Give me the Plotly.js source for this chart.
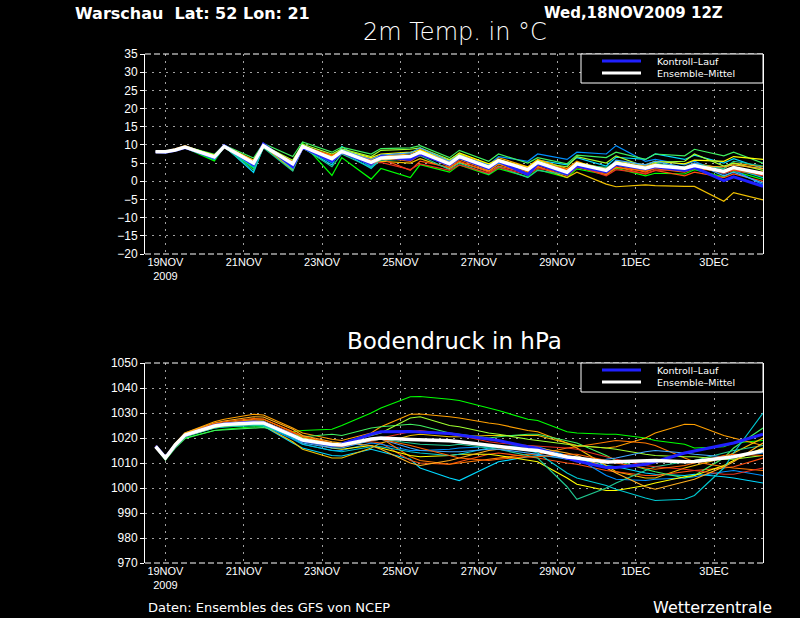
<!DOCTYPE html>
<html>
<head>
<meta charset="utf-8">
<script src="https://cdn.plot.ly/plotly-3.0.1.min.js"></script>
<style>html,body{margin:0;padding:0;background:#000;}#chart{width:800px;height:618px;}</style>
</head>
<body>
<div id="chart"></div>
<script>
// ---- time axis (forecast steps) ----
const times = ['2009-11-18 18:00','2009-11-19 00:00','2009-11-19 06:00','2009-11-19 12:00',
 '2009-11-20 06:00','2009-11-20 12:00','2009-11-21 06:00','2009-11-21 12:00',
 '2009-11-22 06:00','2009-11-22 12:00','2009-11-23 06:00','2009-11-23 12:00',
 '2009-11-24 06:00','2009-11-24 12:00','2009-11-25 06:00','2009-11-25 12:00',
 '2009-11-26 06:00','2009-11-26 12:00','2009-11-27 06:00','2009-11-27 12:00',
 '2009-11-28 06:00','2009-11-28 12:00','2009-11-29 06:00','2009-11-29 12:00',
 '2009-11-30 06:00','2009-11-30 12:00','2009-12-01 06:00','2009-12-01 12:00',
 '2009-12-02 06:00','2009-12-02 12:00','2009-12-03 06:00','2009-12-03 12:00',
 '2009-12-04 06:00'];

const tickDates = ['2009-11-19','2009-11-21','2009-11-23','2009-11-25','2009-11-27','2009-11-29','2009-12-01','2009-12-03'];
const tickLabels = ['19NOV<br>2009','21NOV','23NOV','25NOV','27NOV','29NOV','1DEC','3DEC'];

const memberColors = ['#00ff00','#00d8ff','#ffa000','#f0c000','#ff5010','#0090ff','#40f060','#ff7800',
                      '#ffff00','#20c890','#e83020','#a0ff30','#00c8d0','#ffb020','#40a8ff','#ff6400'];

// ---- 2m temperature (°C) ----
const tempMean    = [8.1,8.1,8.6,9.4,6.7,9.6,5.0,9.8,4.8,9.6,6.2,8.2,5.2,6.4,6.8,8.0,4.8,6.8,3.9,5.7,3.2,5.2,2.5,4.8,3.0,5.0,3.6,4.3,3.6,4.3,2.7,3.8,2.1];
const tempControl = [8.1,8.0,8.5,9.3,6.5,9.8,4.6,10.2,4.0,9.4,5.5,8.0,4.8,6.8,6.0,7.5,4.5,6.5,3.5,5.5,1.8,4.8,2.0,4.2,2.6,4.6,3.4,4.0,3.0,3.8,0.2,1.2,-1.4];
const tempM01 = [8.0,7.9,8.4,9.2,5.6,9.5,3.5,9.6,3.2,10.5,1.6,6.5,0.6,3.5,1.0,4.6,2.5,4.5,1.8,3.5,1.2,3.2,1.0,3.4,1.8,3.6,1.5,2.2,2.0,3.2,1.2,2.8,0.5];
const tempM02 = [8.2,8.2,8.7,9.5,6.2,9.7,2.4,9.5,3.5,9.2,4.5,9.6,4.0,6.0,6.5,8.5,5.5,7.2,4.0,5.2,3.8,5.8,4.5,6.5,4.2,6.6,6.0,7.5,6.0,7.2,5.0,6.2,3.5];
const tempM03 = [8.1,8.2,8.9,9.8,6.9,9.7,5.5,9.9,5.5,9.8,7.0,8.5,6.2,7.0,7.5,8.8,5.2,7.5,4.5,6.5,4.0,6.0,3.5,5.5,2.5,4.5,3.0,3.8,4.0,5.0,3.5,5.0,4.0];
const tempM04 = [8.1,8.0,8.5,9.3,6.4,9.4,4.8,9.7,3.0,9.0,5.8,7.5,5.0,5.5,5.0,6.2,3.5,5.2,2.8,4.8,2.0,4.0,1.0,2.5,-0.8,-1.5,-1.0,-1.2,-1.4,-1.4,-5.5,-3.1,-5.1];
const tempM05 = [8.0,8.1,8.6,9.3,7.0,9.8,5.6,9.9,5.0,9.7,6.5,8.0,5.8,6.2,3.0,5.5,3.8,5.5,2.5,4.2,2.2,4.0,1.5,3.8,2.2,4.0,2.0,3.0,1.5,2.5,1.0,2.0,0.0];
const tempM06 = [8.1,8.1,8.6,9.4,6.8,9.5,4.2,10.0,4.0,9.5,5.5,8.8,4.0,6.5,7.2,8.2,5.0,7.0,4.5,6.8,5.5,7.5,6.0,8.0,7.5,9.8,5.5,6.0,4.5,5.5,2.0,3.2,-1.0];
const tempM07 = [8.2,8.3,8.8,9.6,7.4,9.9,6.4,10.4,6.8,10.8,8.0,9.4,7.5,9.0,9.2,9.8,6.5,8.5,5.5,7.5,5.0,6.5,4.8,7.2,6.5,8.0,6.0,7.5,7.0,8.8,7.0,8.0,5.0];
const tempM08 = [8.0,8.0,8.5,9.2,6.6,9.6,5.2,9.6,4.5,9.5,6.8,8.4,5.5,6.8,7.0,7.8,4.0,6.0,3.0,4.8,2.5,4.5,2.0,4.0,1.8,3.8,2.8,3.5,2.5,3.5,2.8,3.5,2.5];
const tempM09 = [8.2,8.2,8.7,9.5,7.2,9.8,5.8,10.0,4.2,9.0,6.8,8.6,6.5,7.5,8.0,8.5,5.8,7.8,4.8,6.0,3.8,5.8,3.0,5.2,3.5,5.5,4.5,5.5,4.8,5.8,5.5,6.8,6.0];
const tempM10 = [8.1,8.2,8.7,9.4,6.9,9.5,3.0,9.2,2.8,9.3,4.0,7.5,3.8,5.8,6.0,7.0,3.2,5.0,2.0,4.0,1.0,3.0,1.8,4.5,3.8,5.2,4.0,5.0,3.8,4.8,3.5,5.5,4.2];
const tempM11 = [8.1,8.1,8.6,9.3,6.8,9.6,5.4,9.8,5.2,9.9,6.0,8.0,5.0,5.2,3.2,4.8,3.0,4.5,2.2,3.8,1.8,3.5,2.5,4.2,1.5,3.2,2.2,3.0,3.2,4.2,2.2,3.0,1.5];
const tempM12 = [8.2,8.2,8.6,9.4,6.3,9.7,4.6,9.9,5.8,10.2,7.5,8.9,6.8,8.5,8.8,9.2,6.0,7.5,3.5,5.2,3.0,5.0,4.0,6.8,5.0,7.0,4.0,5.2,5.5,7.5,4.2,5.0,3.0];
const tempM13 = [8.1,8.1,8.6,9.4,6.0,9.4,3.8,9.6,5.0,9.4,5.0,8.2,3.5,6.2,6.8,8.0,4.5,6.2,3.8,5.0,3.2,5.5,2.8,5.0,3.0,5.0,3.8,4.5,3.2,4.0,3.0,3.5,1.0];
const tempM14 = [8.2,8.2,8.8,9.6,7.0,9.6,5.8,9.8,3.8,9.6,6.4,8.4,4.5,6.0,6.2,7.8,5.5,7.0,3.2,5.5,2.8,5.2,2.2,4.5,3.5,5.0,4.2,4.8,3.0,4.2,4.0,4.5,3.5];
const tempM15 = [8.0,8.0,8.5,9.3,6.5,9.6,5.0,9.7,4.6,9.8,6.5,8.6,6.0,7.2,7.8,9.2,5.5,7.2,4.2,5.5,3.5,5.0,2.2,4.5,3.0,5.8,4.5,5.5,3.8,5.0,1.5,2.5,-0.5];
const tempM16 = [8.1,8.1,8.6,9.4,6.6,9.5,5.3,9.8,5.3,9.6,7.2,8.0,5.6,6.6,5.5,7.2,4.6,6.4,3.6,5.8,3.6,5.4,3.2,5.0,2.8,4.5,2.5,3.6,2.8,3.8,2.5,3.2,1.8];

// ---- surface pressure (hPa) ----
const presMean    = [1016.6,1012.0,1017.2,1021.2,1024.8,1025.4,1026.0,1026.0,1021.0,1019.2,1017.4,1017.2,1019.6,1020.0,1019.4,1019.3,1018.9,1018.5,1017.0,1016.8,1015.3,1015.0,1012.4,1012.0,1010.4,1010.5,1011.0,1011.0,1010.5,1010.6,1012.0,1012.5,1014.9];
const presControl = [1016.8,1012.2,1017.0,1021.0,1025.0,1025.6,1026.4,1026.2,1021.2,1019.0,1017.0,1017.6,1021.5,1022.5,1022.6,1022.4,1021.8,1021.2,1019.5,1019.0,1016.5,1015.8,1012.0,1010.8,1008.2,1008.2,1009.5,1010.5,1014.0,1014.8,1017.0,1018.0,1021.5];
const presM01 = [1016.5,1011.8,1016.5,1020.0,1023.0,1023.5,1024.5,1024.5,1022.5,1023.0,1023.5,1025.0,1030.0,1032.0,1036.5,1036.6,1035.5,1035.0,1032.0,1031.0,1027.5,1027.0,1022.5,1022.0,1021.5,1021.5,1020.0,1019.0,1017.5,1016.0,1016.5,1018.0,1019.0];
const presM02 = [1016.4,1011.6,1016.8,1020.8,1024.0,1024.4,1025.0,1024.8,1018.0,1016.0,1013.0,1012.8,1015.5,1014.5,1011.5,1008.0,1004.0,1003.0,1008.5,1010.5,1012.5,1013.0,1012.0,1011.5,1009.0,1008.5,1006.0,1005.5,1005.0,1005.5,1004.5,1004.0,1002.0];
const presM03 = [1016.8,1012.2,1017.8,1022.0,1026.5,1027.5,1029.5,1029.2,1024.0,1022.0,1019.5,1019.0,1022.0,1024.5,1029.5,1029.6,1028.5,1028.0,1026.0,1025.5,1023.0,1022.5,1018.0,1017.0,1016.0,1016.5,1020.0,1022.0,1025.5,1025.4,1021.0,1020.0,1017.0];
const presM04 = [1016.6,1012.0,1017.0,1021.0,1024.5,1025.0,1025.5,1025.0,1018.5,1015.5,1012.0,1012.0,1016.0,1018.0,1021.0,1021.5,1020.5,1020.5,1021.0,1021.0,1021.0,1021.0,1018.0,1016.0,1009.0,1006.5,1004.0,1004.0,1008.0,1009.0,1012.0,1014.0,1020.0];
const presM05 = [1016.5,1011.8,1016.8,1021.0,1025.0,1025.5,1026.5,1026.5,1022.0,1020.5,1018.0,1017.5,1018.5,1018.0,1011.0,1010.0,1009.5,1010.5,1013.5,1014.0,1012.5,1012.0,1010.0,1009.5,1007.0,1006.5,1005.0,1005.0,1006.5,1007.0,1008.0,1008.5,1012.0];
const presM06 = [1016.4,1011.4,1016.5,1020.5,1024.0,1024.6,1025.2,1025.0,1019.5,1017.5,1015.0,1015.0,1018.0,1017.5,1015.0,1015.0,1015.5,1016.0,1016.5,1016.5,1017.0,1016.5,1013.0,1012.0,1005.0,1003.5,1003.0,1003.5,1004.0,1004.5,1006.5,1007.0,1005.0];
const presM07 = [1016.2,1011.2,1016.0,1019.8,1023.0,1023.2,1024.0,1024.2,1021.5,1020.5,1021.5,1021.0,1024.0,1024.5,1025.5,1025.0,1022.0,1021.5,1020.0,1020.5,1021.5,1021.5,1019.0,1018.0,1013.0,1011.0,1007.5,1006.5,1004.0,1005.0,1012.0,1016.0,1024.0];
const presM08 = [1016.8,1012.4,1017.5,1021.5,1025.5,1026.0,1027.5,1027.5,1022.5,1020.5,1017.5,1017.0,1019.5,1020.0,1012.5,1011.0,1009.5,1010.0,1011.5,1012.0,1013.5,1013.5,1016.0,1016.5,1018.5,1019.0,1018.0,1017.0,1012.0,1010.5,1008.5,1008.0,1007.0];
const presM09 = [1016.7,1012.2,1017.5,1021.8,1025.5,1026.0,1027.0,1026.8,1021.5,1019.0,1016.0,1015.5,1017.0,1016.0,1013.0,1012.5,1013.0,1013.5,1013.5,1013.0,1011.0,1010.5,1004.0,1001.5,999.0,999.0,1001.0,1002.0,1004.5,1005.0,1009.0,1011.0,1016.0];
const presM10 = [1016.5,1011.8,1016.6,1020.5,1024.0,1024.5,1025.0,1025.0,1020.5,1018.5,1016.5,1016.5,1019.0,1019.5,1018.0,1017.5,1017.0,1017.5,1016.0,1015.5,1013.0,1012.0,1000.5,995.5,1000.0,1002.0,1007.0,1008.5,1010.5,1011.0,1014.0,1015.0,1017.0];
const presM11 = [1016.6,1012.0,1017.2,1021.2,1025.2,1025.8,1026.8,1026.6,1021.0,1019.0,1017.0,1016.5,1019.0,1020.0,1022.5,1023.0,1021.5,1021.0,1018.5,1018.0,1017.0,1016.8,1016.0,1015.5,1012.5,1011.5,1009.0,1008.5,1007.5,1007.0,1005.5,1005.5,1008.0];
const presM12 = [1016.4,1011.6,1016.6,1020.6,1024.2,1024.8,1025.5,1025.4,1021.5,1020.0,1018.0,1018.0,1021.0,1022.0,1028.0,1028.5,1025.0,1024.5,1022.0,1021.5,1019.5,1019.0,1017.5,1017.0,1016.0,1015.5,1013.5,1013.0,1012.5,1012.5,1011.5,1011.5,1013.0];
const presM13 = [1016.6,1012.0,1017.0,1021.0,1024.5,1025.0,1025.5,1025.2,1020.0,1017.5,1015.0,1014.5,1016.5,1016.5,1014.5,1014.0,1013.0,1013.5,1016.0,1016.5,1015.0,1014.0,1006.0,1004.0,1001.0,999.5,996.0,995.0,995.5,997.0,1008.0,1014.0,1030.0];
const presM14 = [1016.8,1012.4,1017.6,1022.0,1026.0,1026.8,1028.5,1028.4,1023.5,1021.0,1018.5,1018.0,1017.0,1015.5,1010.0,1009.0,1011.0,1012.0,1015.0,1015.5,1016.0,1016.0,1014.0,1013.0,1008.0,1006.0,1000.5,999.5,1002.5,1003.5,1008.5,1010.5,1018.0];
const presM15 = [1016.5,1011.8,1016.9,1021.0,1024.8,1025.2,1026.0,1025.8,1020.5,1018.0,1016.0,1016.0,1019.0,1019.5,1016.0,1015.0,1014.5,1014.5,1015.5,1015.5,1014.0,1013.5,1011.5,1011.0,1011.5,1012.0,1014.5,1015.0,1014.0,1013.5,1012.5,1012.5,1014.0];
const presM16 = [1016.7,1012.1,1017.3,1021.5,1025.8,1026.5,1027.8,1027.6,1022.5,1020.5,1018.0,1017.5,1019.0,1019.5,1017.0,1016.0,1013.0,1012.0,1011.0,1011.5,1012.5,1012.5,1013.5,1013.5,1011.0,1010.0,1008.0,1007.5,1009.0,1010.0,1013.0,1013.5,1013.0];

const tempMembers = [tempM01,tempM02,tempM03,tempM04,tempM05,tempM06,tempM07,tempM08,tempM09,tempM10,tempM11,tempM12,tempM13,tempM14,tempM15,tempM16];
const presMembers = [presM01,presM02,presM03,presM04,presM05,presM06,presM07,presM08,presM09,presM10,presM11,presM12,presM13,presM14,presM15,presM16];

const controlColor = '#2020ff';
const traces = [];
tempMembers.forEach((ys, i) => traces.push({x: times, y: ys, xaxis: 'x', yaxis: 'y', type: 'scatter', mode: 'lines',
  line: {color: memberColors[i], width: 1.2}, showlegend: false, hoverinfo: 'skip'}));
traces.push({x: times, y: tempControl, xaxis: 'x', yaxis: 'y', type: 'scatter', mode: 'lines', name: 'Kontroll-Lauf',
  line: {color: controlColor, width: 3}, showlegend: false});
traces.push({x: times, y: tempMean, xaxis: 'x', yaxis: 'y', type: 'scatter', mode: 'lines', name: 'Ensemble-Mittel',
  line: {color: '#ffffff', width: 3.5}, showlegend: false});
presMembers.forEach((ys, i) => traces.push({x: times, y: ys, xaxis: 'x2', yaxis: 'y2', type: 'scatter', mode: 'lines',
  line: {color: memberColors[i], width: 1.2}, showlegend: false, hoverinfo: 'skip'}));
traces.push({x: times, y: presControl, xaxis: 'x2', yaxis: 'y2', type: 'scatter', mode: 'lines', name: 'Kontroll-Lauf',
  line: {color: controlColor, width: 3}, showlegend: false});
traces.push({x: times, y: presMean, xaxis: 'x2', yaxis: 'y2', type: 'scatter', mode: 'lines', name: 'Ensemble-Mittel',
  line: {color: '#ffffff', width: 3.5}, showlegend: false});

// pixel helpers -> paper coords (plot area: x 145..763, y 54..563)
const L = 145, R = 763, T = 54, B = 563;
const px = x => (x - L) / (R - L);
const py = y => (B - y) / (B - T);
const topDom = [py(254), 1];
const botDom = [0, py(363)];

const FONT = 'DejaVu Sans, Liberation Sans, sans-serif';
const tickFont = {family: 'Liberation Sans, DejaVu Sans, sans-serif', size: 11, color: '#ffffff'};
const gridCol = '#a0a0a0';
const xRange = ['2009-11-18 11:30', '2009-12-04 06:00'];

function xAxis(anchor) {
  return {domain: [0, 1], anchor: anchor, type: 'date', range: xRange,
    tickmode: 'array', tickvals: tickDates, ticktext: tickLabels, tickfont: tickFont,
    showgrid: true, gridcolor: gridCol, griddash: '2px,5px', gridwidth: 1,
    showline: false, zeroline: false, ticks: '', fixedrange: true};
}
function yAxis(anchor, dom, range, dtick) {
  return {domain: dom, anchor: anchor, range: range, dtick: dtick, tick0: 0, tickmode: 'linear',
    tickfont: {family: tickFont.family, size: 12, color: '#ffffff'},
    ticks: 'outside', ticklen: 4, tickcolor: '#ffffff', tickwidth: 1,
    showline: true, linecolor: '#ffffff', linewidth: 1, mirror: true,
    showgrid: true, gridcolor: gridCol, griddash: '2px,5px', gridwidth: 1,
    zeroline: false, fixedrange: true};
}

const shapes = [];
// dashed top/bottom frame edges
[topDom[0], topDom[1], botDom[0], botDom[1]].forEach(v => shapes.push({type: 'line', xref: 'paper', yref: 'paper',
  x0: 0, x1: 1, y0: v, y1: v, line: {color: '#ffffff', width: 1, dash: '6px,3px'}, layer: 'above'}));

const annotations = [];
function legendBox(yTop, yBot, yLine1, yLine2) {
  shapes.push({type: 'rect', xref: 'paper', yref: 'paper', x0: px(581), x1: 1, y0: py(yBot), y1: py(yTop),
    line: {color: '#ffffff', width: 1}, fillcolor: '#000000', layer: 'above'});
  shapes.push({type: 'line', xref: 'paper', yref: 'paper', x0: px(602), x1: px(641), y0: py(yLine1), y1: py(yLine1),
    line: {color: controlColor, width: 3}, layer: 'above'});
  shapes.push({type: 'line', xref: 'paper', yref: 'paper', x0: px(602), x1: px(641), y0: py(yLine2), y1: py(yLine2),
    line: {color: '#ffffff', width: 3}, layer: 'above'});
  annotations.push({xref: 'paper', yref: 'paper', x: px(656), y: py((yLine1 + yLine2) / 2), xanchor: 'left', yanchor: 'middle',
    align: 'left', borderpad: 0,
    text: 'Kontroll\u2013Lauf<br>Ensemble\u2013Mittel', showarrow: false, font: {family: FONT, size: 9.5, color: '#ffffff'}});
}
legendBox(54, 83, 61, 73);
legendBox(363, 392, 370, 382);

annotations.push({xref: 'paper', yref: 'paper', x: px(73), y: py(13), xanchor: 'left', yanchor: 'middle',
  text: '<b>Warschau\u00a0\u00a0Lat: 52 Lon: 21</b>', showarrow: false, font: {family: FONT, size: 16, color: '#ffffff'}});
annotations.push({xref: 'paper', yref: 'paper', x: px(725), y: py(13), xanchor: 'right', yanchor: 'middle',
  text: '<b>Wed,18NOV2009\u00a012Z</b>', showarrow: false, font: {family: FONT, size: 15, color: '#ffffff'}});
annotations.push({xref: 'paper', yref: 'paper', x: px(455), y: py(32), xanchor: 'center', yanchor: 'middle',
  text: '2m Temp. in °C', showarrow: false, font: {family: 'DejaVu Sans ExtraLight, DejaVu Sans, sans-serif', size: 24, weight: 200, color: '#ffffff'}});
annotations.push({xref: 'paper', yref: 'paper', x: px(454), y: py(341), xanchor: 'center', yanchor: 'middle',
  text: 'Bodendruck in hPa', showarrow: false, font: {family: FONT, size: 23, color: '#ffffff'}});
annotations.push({xref: 'paper', yref: 'paper', x: px(146), y: py(607), xanchor: 'left', yanchor: 'middle',
  text: 'Daten: Ensembles des GFS von NCEP', showarrow: false, font: {family: FONT, size: 13, color: '#ffffff'}});
annotations.push({xref: 'paper', yref: 'paper', x: px(774), y: py(607), xanchor: 'right', yanchor: 'middle',
  text: 'Wetterzentrale', showarrow: false, font: {family: FONT, size: 16, color: '#ffffff'}});

const layout = {
  width: 800, height: 618,
  paper_bgcolor: '#000000', plot_bgcolor: '#000000',
  margin: {l: L, r: 800 - R, t: T, b: 618 - B, pad: 0},
  showlegend: false,
  xaxis: xAxis('y'), yaxis: yAxis('x', topDom, [-20, 35], 5),
  xaxis2: xAxis('y2'), yaxis2: yAxis('x2', botDom, [970, 1050], 10),
  shapes: shapes, annotations: annotations,
  font: {family: FONT, color: '#ffffff'}
};

Plotly.newPlot('chart', traces, layout, {staticPlot: true, displayModeBar: false});
</script>
</body>
</html>
